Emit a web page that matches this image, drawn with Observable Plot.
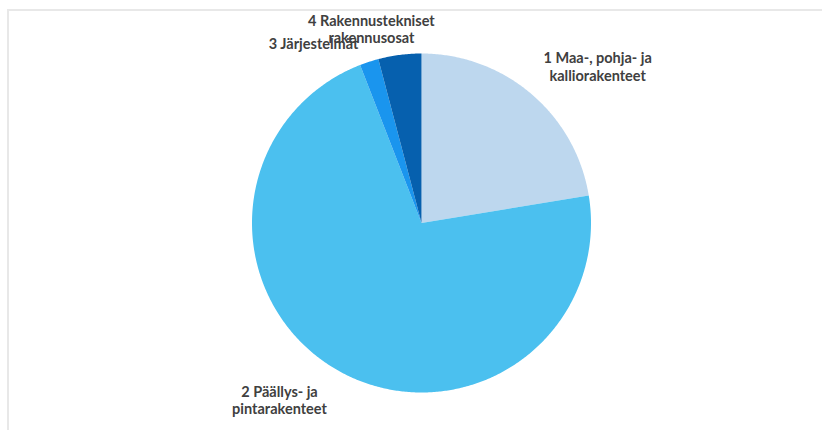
<!DOCTYPE html>
<html><head><meta charset="utf-8">
<script src="https://cdn.jsdelivr.net/npm/d3@7"></script>
<script src="https://cdn.jsdelivr.net/npm/@observablehq/plot@0.6"></script>
<style>
body{margin:0;background:#fff}
#wrap{position:relative;width:822px;height:430px;overflow:hidden}
#frame{position:absolute;left:7px;top:9px;width:900px;height:500px;border:2px solid #e8e8e8;box-sizing:border-box;pointer-events:none}
</style>
</head><body><div id="wrap"></div>
<script>
// Data
const categories = ["1 Maa-, pohja- ja\nkalliorakenteet", "2 Päällys- ja\npintarakenteet", "3 Järjestelmät", "4 Rakennustekniset\nrakennusosat"];
const values = [22.4, 71.7, 1.8, 4.1];
const colors = ["#BDD7EE", "#4BC0EF", "#1A95EE", "#0660AE"];
// Label placement (layout): polar angle in degrees clockwise from top, radius relative to pie radius
const labelAngle = [48.4, 218.7, 329.0, 345.5];
const labelRadius = [1.39, 1.34, 1.236, 1.18];

const total = d3.sum(values);
const ends = d3.cumsum(values);
const points = [];
values.forEach((v, i) => {
  const a0 = (ends[i] - v) / total * 2 * Math.PI;
  const a1 = ends[i] / total * 2 * Math.PI;
  const n = Math.max(2, Math.ceil((a1 - a0) / (Math.PI / 360)));
  points.push({cat: categories[i], x: 0, y: 0});
  for (let k = 0; k <= n; k++) {
    const a = a0 + (a1 - a0) * k / n;
    points.push({cat: categories[i], x: Math.sin(a), y: Math.cos(a)});
  }
});
const labels = categories.map((c, i) => {
  const a = labelAngle[i] * Math.PI / 180;
  return {cat: c, x: labelRadius[i] * Math.sin(a), y: labelRadius[i] * Math.cos(a)};
});

const chart = Plot.plot({
  width: 822,
  height: 430,
  margin: 0,
  style: {background: "transparent"},
  x: {domain: [-1, 1], range: [251.5, 590.5], axis: null},
  y: {domain: [-1, 1], range: [392, 53], axis: null},
  color: {domain: categories, range: colors},
  marks: [
    Plot.line(points, {x: "x", y: "y", z: "cat", fill: "cat", stroke: null, curve: "linear-closed"}),
    Plot.text(labels, {x: "x", y: "y", text: "cat", fill: "#404040", fontWeight: "bold", fontSize: 14.5, fontFamily: "Lato", lineHeight: 1.18, textAnchor: "middle", lineAnchor: "middle"})
  ]
});
const wrap = document.getElementById("wrap");
wrap.appendChild(chart);
const frame = document.createElement("div");
frame.id = "frame";
wrap.appendChild(frame);
</script>
</body></html>
